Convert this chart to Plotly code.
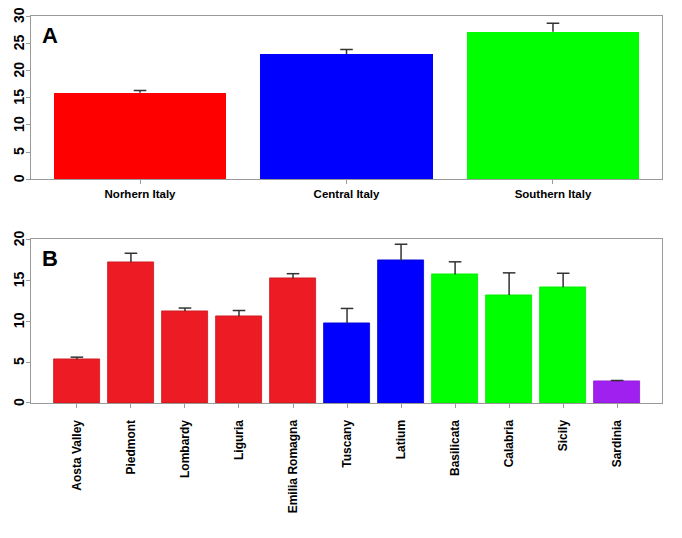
import plotly.graph_objects as go

# Panel A data
regions = ["Norhern Italy", "Central Italy", "Southern Italy"]
region_means = [15.9, 23.0, 27.1]
region_err = [0.4, 0.85, 1.55]
region_colors = ["#FF0000", "#0000FF", "#00FF00"]

# Panel B data
provinces = ["Aosta Valley", "Piedmont", "Lombardy", "Liguria", "Emilia Romagna",
             "Tuscany", "Latium", "Basilicata", "Calabria", "Sicily", "Sardinia"]
province_means = [5.3, 17.2, 11.2, 10.6, 15.2, 9.75, 17.4, 15.7, 13.2, 14.15, 2.65]
province_err = [0.3, 1.1, 0.4, 0.7, 0.6, 1.8, 2.0, 1.55, 2.7, 1.7, 0.1]
province_colors = ["#ED1C24"] * 5 + ["#0000FF"] * 2 + ["#00FF00"] * 3 + ["#A020F0"]
province_edges = ["#C8161D"] * 5 + ["#0000D0"] * 2 + ["#00E800"] * 3 + ["#8A18D0"]

yticks_a = [0, 5, 10, 15, 20, 25, 30]
yticks_b = [0, 5, 10, 15, 20]

ERR_COLOR = "#333333"

fig = go.Figure()


def add_panel(cats, means, errs, colors, edges, width, xa, ya):
    fig.add_trace(go.Bar(
        x=cats, y=means, width=width,
        marker=dict(color=colors, line=dict(width=0.8 if edges else 0,
                                            color=edges if edges else None)),
        xaxis=xa, yaxis=ya, showlegend=False, hoverinfo="skip",
    ))
    # upper whisker only (no lower cap), with a cap marker at the top
    tops = [m + e for m, e in zip(means, errs)]
    fig.add_trace(go.Scatter(
        x=cats, y=means, mode="none",
        error_y=dict(type="data", symmetric=False, array=errs,
                     arrayminus=[0] * len(errs), color=ERR_COLOR,
                     thickness=1.5, width=0),
        xaxis=xa, yaxis=ya, showlegend=False, hoverinfo="skip",
    ))
    fig.add_trace(go.Scatter(
        x=cats, y=tops, mode="markers",
        marker=dict(symbol="line-ew", size=9, color=ERR_COLOR,
                    line=dict(width=1.5, color=ERR_COLOR)),
        xaxis=xa, yaxis=ya, showlegend=False, hoverinfo="skip",
    ))


add_panel(regions, region_means, region_err, region_colors, None, 0.835, "x", "y")
add_panel(provinces, province_means, province_err, province_colors, province_edges, 0.84, "x2", "y2")

frame = dict(showline=True, linecolor="#9a9a9a", linewidth=1.3, mirror=True,
             showgrid=False, zeroline=False, automargin=False)
yfont = dict(family="Liberation Sans, Arial, sans-serif", size=14, color="black", weight="bold")
panel_font = dict(family="Liberation Sans, Arial, sans-serif", size=22, color="black", weight="bold")

# rotated y tick labels (placed at tick values on each y axis)
annotations = []
for yref, xref, vals in (("y", "x domain", yticks_a), ("y2", "x2 domain", yticks_b)):
    for v in vals:
        annotations.append(dict(
            text=str(v), xref=xref, yref=yref, x=0, y=v,
            xanchor="center", yanchor="middle", xshift=-12, yshift=1,
            textangle=-90, showarrow=False, font=yfont,
        ))

annotations += [
    dict(text="A", xref="x domain", yref="y domain", x=0.014, y=0.97,
         xanchor="left", yanchor="top", showarrow=False, font=panel_font),
    dict(text="B", xref="x2 domain", yref="y2 domain", x=0.014, y=0.97,
         xanchor="left", yanchor="top", showarrow=False, font=panel_font),
]

fig.update_layout(
    width=674, height=522,
    margin=dict(l=23, r=20, t=8, b=127),
    paper_bgcolor="white", plot_bgcolor="white",
    bargap=0,
    xaxis=dict(domain=[0, 1], anchor="y", range=[-0.528, 2.528],
               ticks="outside", ticklen=4, tickcolor="#9a9a9a",
               ticklabelstandoff=0,
               tickfont=dict(family="Liberation Sans Narrow, Arial Narrow, Liberation Sans, sans-serif",
                             size=11.5, color="black", weight="bold"),
               **frame),
    yaxis=dict(domain=[0.578, 1], anchor="x", range=[0, 30], tickvals=yticks_a,
               ticks="outside", ticklen=4, tickcolor="#9a9a9a",
               showticklabels=False, **frame),
    xaxis2=dict(domain=[0, 1], anchor="y2", range=[-0.85, 10.83],
                ticks="outside", ticklen=4, tickcolor="#9a9a9a",
                tickangle=-90, ticklabelstandoff=7,
                tickfont=dict(family="Liberation Sans, Arial, sans-serif", size=12,
                              color="black", weight="bold"),
                **frame),
    yaxis2=dict(domain=[0, 0.423], anchor="x2", range=[0, 20], tickvals=yticks_b,
                ticks="outside", ticklen=4, tickcolor="#9a9a9a",
                showticklabels=False, **frame),
    annotations=annotations,
)

fig.write_html("out.html")
